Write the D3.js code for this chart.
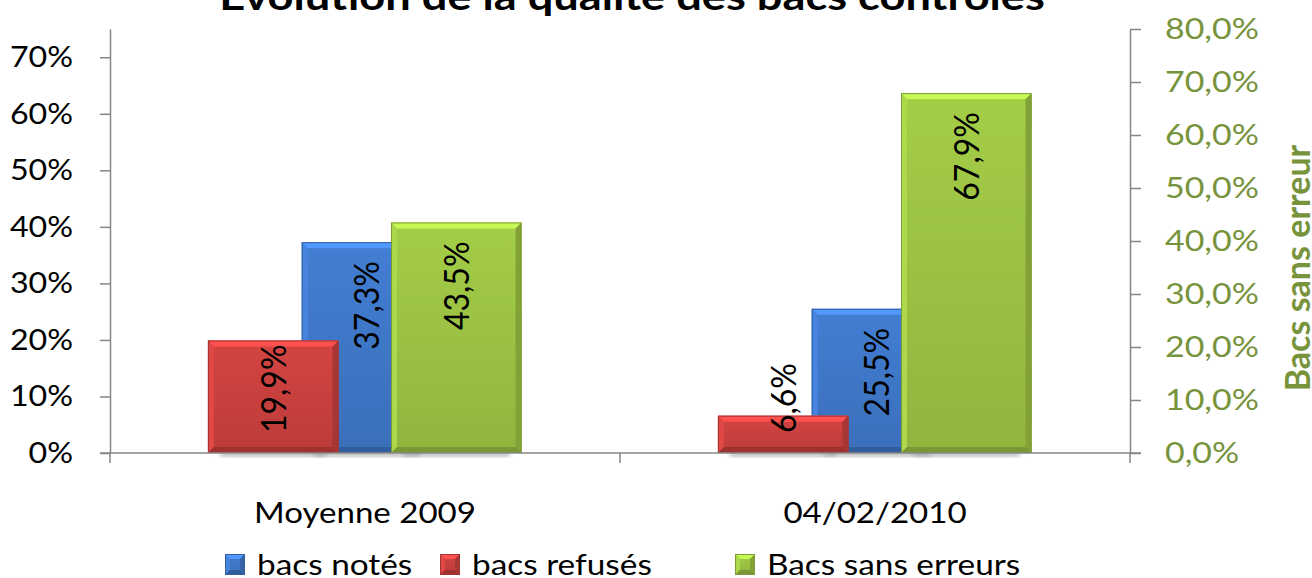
<!DOCTYPE html>
<html>
<head>
<meta charset="utf-8">
<script src="https://cdn.jsdelivr.net/npm/d3@7"></script>
<style>
    html, body { margin: 0; padding: 0; background: #fff; }
    svg { display: block; font-family: Lato, "Open Sans", sans-serif; }
</style>
</head>
<body>
<svg id="chart" width="1312" height="578"></svg>
<script>
// données
const categories = ['Moyenne 2009', '04/02/2010'];
const bacsNotes = [0.373, 0.255];
const bacsRefuses = [0.199, 0.066];
const bacsSansErreurs = [0.435, 0.679];
const leftTicks = [0, 0.1, 0.2, 0.3, 0.4, 0.5, 0.6, 0.7];
const rightTicks = [0, 0.1, 0.2, 0.3, 0.4, 0.5, 0.6, 0.7, 0.8];
const seriesNames = ['bacs notés', 'bacs refusés', 'Bacs sans erreurs'];

const title = 'Evolution de la qualité des bacs contrôlés';
const rightTitle = 'Bacs sans erreur';

// mise en page
const W = 1312, H = 578;
const plot = { left: 110, right: 1130, top: 29, bottom: 453 };
const green = '#77933c';
const axisColor = '#868686';
const SX = 1.15; // étirement horizontal du texte

const fr = d3.formatLocale({ decimal: ',', thousands: ' ', grouping: [3], currency: ['', ' €'] });
const fmtLabel = fr.format('.1%');

const series = [
    { name: seriesNames[0], values: bacsNotes, color: '#3f77c8', axis: 'left', slot: 0.376, label: 'end' },
    { name: seriesNames[1], values: bacsRefuses, color: '#c9403e', axis: 'left', slot: 0.192, label: 'base' },
    { name: seriesNames[2], values: bacsSansErreurs, color: '#9bc243', axis: 'right', slot: 0.551, label: 'end' }
];
const barFrac = 0.256;
const legendX = [225, 440, 735];

const svg = d3.select('#chart');
const defs = svg.append('defs');

const x = d3.scaleBand().domain(categories).range([plot.left, plot.right]).padding(0);
const yL = d3.scaleLinear().domain([0, 0.75]).range([plot.bottom, plot.top]);
const yR = d3.scaleLinear().domain([0, 0.8]).range([plot.bottom, plot.top]);

// étire un texte horizontal autour de son point d'ancrage
function stretch(sel, sx) {
    sel.each(function() {
        const t = d3.select(this);
        const tx = +t.attr('x') || 0;
        const ty = +t.attr('y') || 0;
        t.attr('x', 0).attr('y', 0)
            .attr('transform', `translate(${tx},${ty}) scale(${sx},1)`);
    });
}

// dégradés pour chaque série
series.forEach((s, i) => {
    const c = d3.color(s.color);
    const g = defs.append('linearGradient').attr('id', 'face' + i)
        .attr('x1', 0).attr('y1', 0).attr('x2', 0).attr('y2', 1);
    g.append('stop').attr('offset', '0%').attr('stop-color', c.brighter(0.15));
    g.append('stop').attr('offset', '100%').attr('stop-color', c.darker(0.2));
});
defs.append('filter').attr('id', 'blur')
    .append('feGaussianBlur').attr('stdDeviation', 2);

function bevelBar(g, bx, by, bw, bh, i, color, b) {
    const c = d3.color(color);
    b = Math.min(b, bh / 2, bw / 2);
    const grp = g.append('g');
    grp.append('rect')
        .attr('x', bx).attr('y', by).attr('width', bw).attr('height', bh)
        .attr('fill', `url(#face${i})`);
    const pts = (arr) => arr.map(p => p.join(',')).join(' ');
    // haut
    grp.append('polygon').attr('points', pts([[bx, by], [bx + bw, by], [bx + bw - b, by + b], [bx + b, by + b]]))
        .attr('fill', c.brighter(0.7));
    // gauche
    grp.append('polygon').attr('points', pts([[bx, by], [bx + b, by + b], [bx + b, by + bh - b], [bx, by + bh]]))
        .attr('fill', c.brighter(0.3));
    // droite
    grp.append('polygon').attr('points', pts([[bx + bw, by], [bx + bw, by + bh], [bx + bw - b, by + bh - b], [bx + bw - b, by + b]]))
        .attr('fill', c.darker(0.5));
    // bas
    grp.append('polygon').attr('points', pts([[bx, by + bh], [bx + b, by + bh - b], [bx + bw - b, by + bh - b], [bx + bw, by + bh]]))
        .attr('fill', c.darker(0.7));
    grp.append('rect')
        .attr('x', bx + 0.5).attr('y', by + 0.5).attr('width', bw - 1).attr('height', bh - 1)
        .attr('fill', 'none').attr('stroke', c.darker(0.6)).attr('stroke-width', 1);
}

// titre (coupé en haut)
svg.append('text')
    .attr('x', 632).attr('y', 10)
    .attr('text-anchor', 'middle')
    .attr('font-weight', 'bold')
    .attr('font-size', 38)
    .text(title)
    .call(stretch, 1.19);

// axe gauche
const axL = svg.append('g')
    .attr('transform', `translate(${plot.left},0)`)
    .call(d3.axisLeft(yL).tickValues(leftTicks).tickFormat(d3.format('.0%')).tickSize(10).tickSizeOuter(0).tickPadding(27));
axL.select('.domain').attr('stroke', axisColor).attr('stroke-width', 1.5);
axL.selectAll('.tick line').attr('stroke', axisColor).attr('stroke-width', 1.5);
axL.selectAll('.tick text').attr('font-size', 29).attr('fill', '#000').attr('font-family', 'Lato')
    .call(stretch, 1.11);

// axe droit
const axR = svg.append('g')
    .attr('transform', `translate(${plot.right},0)`)
    .call(d3.axisRight(yR).tickValues(rightTicks).tickFormat(fr.format('.1%')).tickSize(11).tickSizeOuter(0).tickPadding(24));
axR.select('.domain').attr('stroke', axisColor).attr('stroke-width', 1.5);
axR.selectAll('.tick line').attr('stroke', axisColor).attr('stroke-width', 1.5);
axR.selectAll('.tick text').attr('font-size', 29).attr('fill', green).attr('font-family', 'Lato')
    .call(stretch, 1.17);

svg.append('text')
    .attr('transform', `translate(1310,268) rotate(-90)`)
    .attr('text-anchor', 'middle')
    .attr('font-weight', 'bold')
    .attr('font-size', 34)
    .attr('fill', green)
    .text(rightTitle);

// barres
const shadows = svg.append('g').attr('filter', 'url(#blur)');
const bars = svg.append('g');
series.forEach((s, i) => {
    const y = s.axis === 'left' ? yL : yR;
    s.values.forEach((v, j) => {
        const bw = x.bandwidth() * barFrac;
        const bx = x(categories[j]) + x.bandwidth() * s.slot;
        shadows.append('rect')
            .attr('x', bx + 12).attr('y', y(0) - 2)
            .attr('width', bw - 24).attr('height', 6)
            .attr('fill', '#888').attr('opacity', 0.5);
        bevelBar(bars, bx, y(v), bw, y(0) - y(v), i, s.color, 6);
    });
});

// axe des catégories
const axB = svg.append('g');
axB.append('line')
    .attr('x1', plot.left - 10).attr('x2', plot.right + 11)
    .attr('y1', plot.bottom).attr('y2', plot.bottom)
    .attr('stroke', axisColor).attr('stroke-width', 1.5);
axB.selectAll('line.tick')
    .data(categories.map(c => x(c)).concat([plot.right]))
    .join('line')
    .attr('class', 'tick')
    .attr('x1', d => d).attr('x2', d => d)
    .attr('y1', plot.bottom).attr('y2', plot.bottom + 10)
    .attr('stroke', axisColor).attr('stroke-width', 1.5);
axB.selectAll('text')
    .data(categories)
    .join('text')
    .attr('x', d => x(d) + x.bandwidth() / 2)
    .attr('y', 523)
    .attr('text-anchor', 'middle')
    .attr('font-size', 29)
    .text(d => d)
    .call(stretch, 1.14);

// étiquettes des barres
const labels = svg.append('g');
series.forEach((s) => {
    const y = s.axis === 'left' ? yL : yR;
    s.values.forEach((v, j) => {
        const bw = x.bandwidth() * barFrac;
        const cx = x(categories[j]) + x.bandwidth() * s.slot + bw / 2;
        const atEnd = s.label === 'end';
        const ty = atEnd ? y(v) + 19 : y(0) - 20;
        labels.append('text')
            .attr('transform', `translate(${cx},${ty}) scale(1.1,1) rotate(-90)`)
            .attr('text-anchor', atEnd ? 'end' : 'start')
            .attr('dy', '0.35em')
            .attr('font-size', 32)
            .text(fmtLabel(v));
    });
});

// légende
const legend = svg.append('g');
series.forEach((s, i) => {
    const lx = legendX[i];
    bevelBar(legend, lx, 554, 20, 21, i, s.color, 5);
    legend.append('text')
        .attr('x', lx + 32).attr('y', 575)
        .attr('font-size', 29)
        .text(s.name)
        .call(stretch, SX);
});
</script>
</body>
</html>
